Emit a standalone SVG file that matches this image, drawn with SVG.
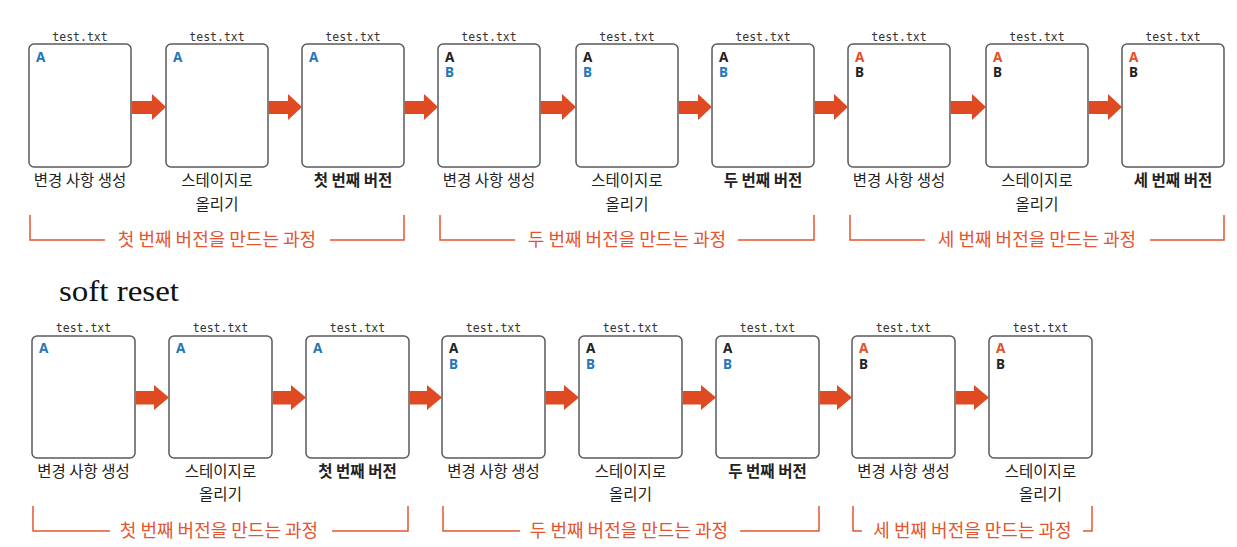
<svg xmlns="http://www.w3.org/2000/svg" width="1237" height="547" viewBox="0 0 1237 547">
<style>
.box{fill:#fff;stroke:#5a5a5a;stroke-width:1.5}
.fn{font-family:"DejaVu Sans Mono","Liberation Mono",monospace;font-size:11.5px;fill:#333;text-anchor:middle}
.ln{font-family:"Noto Sans","Liberation Sans",sans-serif;font-size:13.5px;font-weight:bold}
.blue{fill:#1f77b9}
.blk{fill:#222}
.red{fill:#e2502a}
.lab{font-family:"Noto Sans CJK KR",sans-serif;font-size:15.5px;fill:#222;text-anchor:middle}
.bold{font-weight:bold}
.arr{fill:#e04a22}
.br{fill:none;stroke:#e3552f;stroke-width:1.5}
.bt{font-family:"Noto Sans CJK KR",sans-serif;font-size:18px;fill:#e3552f;text-anchor:middle}
.title{font-family:"Liberation Serif",serif;font-size:30px;fill:#111}
</style>
<rect width="1237" height="547" fill="#fff"/>

<!-- top row nodes -->
<g id="t1"><text class="fn" x="80" y="40.5">test.txt</text><rect class="box" x="29" y="44" width="102" height="123" rx="5"/><text class="ln blue" x="36" y="61.5">A</text><text class="lab" x="80" y="186">변경 사항 생성</text></g>
<g id="t2"><text class="fn" x="217" y="40.5">test.txt</text><rect class="box" x="166" y="44" width="102" height="123" rx="5"/><text class="ln blue" x="173" y="61.5">A</text><text class="lab" x="217" y="186">스테이지로<tspan x="217" dy="24">올리기</tspan></text></g>
<g id="t3"><text class="fn" x="353" y="40.5">test.txt</text><rect class="box" x="302" y="44" width="102" height="123" rx="5"/><text class="ln blue" x="309" y="61.5">A</text><text class="lab bold" x="353" y="186">첫 번째 버전</text></g>
<g id="t4"><text class="fn" x="489" y="40.5">test.txt</text><rect class="box" x="438" y="44" width="102" height="123" rx="5"/><text class="ln" x="445" y="61.5"><tspan class="blk">A</tspan><tspan class="blue" x="445" dy="15.5">B</tspan></text><text class="lab" x="489" y="186">변경 사항 생성</text></g>
<g id="t5"><text class="fn" x="627" y="40.5">test.txt</text><rect class="box" x="576" y="44" width="102" height="123" rx="5"/><text class="ln" x="583" y="61.5"><tspan class="blk">A</tspan><tspan class="blue" x="583" dy="15.5">B</tspan></text><text class="lab" x="627" y="186">스테이지로<tspan x="627" dy="24">올리기</tspan></text></g>
<g id="t6"><text class="fn" x="763" y="40.5">test.txt</text><rect class="box" x="712" y="44" width="102" height="123" rx="5"/><text class="ln" x="719" y="61.5"><tspan class="blk">A</tspan><tspan class="blue" x="719" dy="15.5">B</tspan></text><text class="lab bold" x="763" y="186">두 번째 버전</text></g>
<g id="t7"><text class="fn" x="899" y="40.5">test.txt</text><rect class="box" x="848" y="44" width="102" height="123" rx="5"/><text class="ln" x="855" y="61.5"><tspan class="red">A</tspan><tspan class="blk" x="855" dy="15.5">B</tspan></text><text class="lab" x="899" y="186">변경 사항 생성</text></g>
<g id="t8"><text class="fn" x="1037" y="40.5">test.txt</text><rect class="box" x="986" y="44" width="102" height="123" rx="5"/><text class="ln" x="993" y="61.5"><tspan class="red">A</tspan><tspan class="blk" x="993" dy="15.5">B</tspan></text><text class="lab" x="1037" y="186">스테이지로<tspan x="1037" dy="24">올리기</tspan></text></g>
<g id="t9"><text class="fn" x="1173" y="40.5">test.txt</text><rect class="box" x="1122" y="44" width="102" height="123" rx="5"/><text class="ln" x="1129" y="61.5"><tspan class="red">A</tspan><tspan class="blk" x="1129" dy="15.5">B</tspan></text><text class="lab bold" x="1173" y="186">세 번째 버전</text></g>

<!-- bottom row nodes -->
<text class="title" x="59" y="301" textLength="120" lengthAdjust="spacingAndGlyphs">soft reset</text>
<g id="b1"><text class="fn" x="83.5" y="332">test.txt</text><rect class="box" x="32" y="336" width="103" height="122" rx="5"/><text class="ln blue" x="39" y="353">A</text><text class="lab" x="83.5" y="477">변경 사항 생성</text></g>
<g id="b2"><text class="fn" x="220.5" y="332">test.txt</text><rect class="box" x="169" y="336" width="103" height="122" rx="5"/><text class="ln blue" x="176" y="353">A</text><text class="lab" x="220.5" y="477">스테이지로<tspan x="220.5" dy="23">올리기</tspan></text></g>
<g id="b3"><text class="fn" x="357.5" y="332">test.txt</text><rect class="box" x="306" y="336" width="103" height="122" rx="5"/><text class="ln blue" x="313" y="353">A</text><text class="lab bold" x="357.5" y="477">첫 번째 버전</text></g>
<g id="b4"><text class="fn" x="493.5" y="332">test.txt</text><rect class="box" x="442" y="336" width="103" height="122" rx="5"/><text class="ln" x="449" y="353"><tspan class="blk">A</tspan><tspan class="blue" x="449" dy="15.5">B</tspan></text><text class="lab" x="493.5" y="477">변경 사항 생성</text></g>
<g id="b5"><text class="fn" x="630.5" y="332">test.txt</text><rect class="box" x="579" y="336" width="103" height="122" rx="5"/><text class="ln" x="586" y="353"><tspan class="blk">A</tspan><tspan class="blue" x="586" dy="15.5">B</tspan></text><text class="lab" x="630.5" y="477">스테이지로<tspan x="630.5" dy="23">올리기</tspan></text></g>
<g id="b6"><text class="fn" x="767.5" y="332">test.txt</text><rect class="box" x="716" y="336" width="103" height="122" rx="5"/><text class="ln" x="723" y="353"><tspan class="blk">A</tspan><tspan class="blue" x="723" dy="15.5">B</tspan></text><text class="lab bold" x="767.5" y="477">두 번째 버전</text></g>
<g id="b7"><text class="fn" x="903.5" y="332">test.txt</text><rect class="box" x="852" y="336" width="103" height="122" rx="5"/><text class="ln" x="859" y="353"><tspan class="red">A</tspan><tspan class="blk" x="859" dy="15.5">B</tspan></text><text class="lab" x="903.5" y="477">변경 사항 생성</text></g>
<g id="b8"><text class="fn" x="1040.5" y="332">test.txt</text><rect class="box" x="989" y="336" width="103" height="122" rx="5"/><text class="ln" x="996" y="353"><tspan class="red">A</tspan><tspan class="blk" x="996" dy="15.5">B</tspan></text><text class="lab" x="1040.5" y="477">스테이지로<tspan x="1040.5" dy="23">올리기</tspan></text></g>

<!-- connectors -->
<g id="connectors" class="arr">
<path d="M131.8,101 H152 V94 L166,107 L152,120 V114 H131.8 Z"/>
<path d="M268.8,101 H288 V94 L302,107 L288,120 V114 H268.8 Z"/>
<path d="M404.8,101 H424 V94 L438,107 L424,120 V114 H404.8 Z"/>
<path d="M540.8,101 H562 V94 L576,107 L562,120 V114 H540.8 Z"/>
<path d="M678.8,101 H698 V94 L712,107 L698,120 V114 H678.8 Z"/>
<path d="M814.8,101 H834 V94 L848,107 L834,120 V114 H814.8 Z"/>
<path d="M950.8,101 H972 V94 L986,107 L972,120 V114 H950.8 Z"/>
<path d="M1088.8,101 H1108 V94 L1122,107 L1108,120 V114 H1088.8 Z"/>
<path d="M135.8,391 H154 V385 L169,397.5 L154,410 V404.5 H135.8 Z"/>
<path d="M272.8,391 H291 V385 L306,397.5 L291,410 V404.5 H272.8 Z"/>
<path d="M409.8,391 H427 V385 L442,397.5 L427,410 V404.5 H409.8 Z"/>
<path d="M545.8,391 H564 V385 L579,397.5 L564,410 V404.5 H545.8 Z"/>
<path d="M682.8,391 H701 V385 L716,397.5 L701,410 V404.5 H682.8 Z"/>
<path d="M819.8,391 H837 V385 L852,397.5 L837,410 V404.5 H819.8 Z"/>
<path d="M955.8,391 H974 V385 L989,397.5 L974,410 V404.5 H955.8 Z"/>
</g>

<!-- brackets -->
<g id="brackets">
<path class="br" d="M30,215 V240 H105 M330,240 H404 V215"/>
<text class="bt" x="217" y="245.5">첫 번째 버전을 만드는 과정</text>
<path class="br" d="M440,215 V240 H515 M738,240 H814 V215"/>
<text class="bt" x="627" y="245.5">두 번째 버전을 만드는 과정</text>
<path class="br" d="M850,215 V240 H925 M1150,240 H1224 V215"/>
<text class="bt" x="1037" y="245.5">세 번째 버전을 만드는 과정</text>
<path class="br" d="M33,506 V531 H110 M332,531 H408 V506"/>
<text class="bt" x="219" y="537">첫 번째 버전을 만드는 과정</text>
<path class="br" d="M443,506 V531 H520 M740,531 H819 V506"/>
<text class="bt" x="629" y="537">두 번째 버전을 만드는 과정</text>
<path class="br" d="M853,506 V531 H862 M1083,531 H1092 V506"/>
<text class="bt" x="972.5" y="537">세 번째 버전을 만드는 과정</text>
</g>
</svg>
